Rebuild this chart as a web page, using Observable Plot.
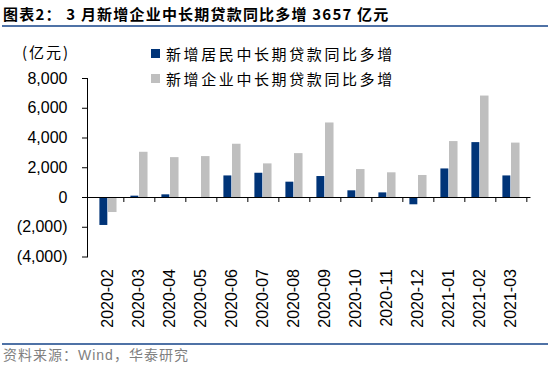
<!DOCTYPE html>
<html>
<head>
<meta charset="utf-8">
<script src="https://cdn.jsdelivr.net/npm/d3@7"></script>
<script src="https://cdn.jsdelivr.net/npm/@observablehq/plot@0.6"></script>
<style>
  html, body { margin: 0; padding: 0; background: #fff; }
  #wrap { position: relative; width: 550px; height: 365px; overflow: hidden; }
  #title { position: absolute; left: 3px; top: 5px; font: bold 15px/17px "Noto Sans CJK SC", sans-serif; letter-spacing: 1.2px; color: #000; white-space: nowrap; }
  #tline { position: absolute; left: 2px; right: 2px; top: 25px; height: 2px; background: #4f72a6; }
  #chart { position: absolute; left: 0; top: 0; }
  #unit { position: absolute; left: 22px; top: 43px; font: 15px/17px "Noto Sans CJK SC", sans-serif; letter-spacing: 2px; color: #000; }
  #legend { position: absolute; left: 151px; top: 41px; font: 15px "Noto Sans CJK SC", sans-serif; letter-spacing: 2.6px; color: #000; }
  #legend .row { display: flex; align-items: center; height: 25px; }
  #legend .sw { width: 9px; height: 9px; margin-right: 6px; }
  #bline { position: absolute; left: 2px; right: 2px; top: 343px; height: 2px; background: #4f72a6; }
  #source { position: absolute; left: 3px; top: 347px; font: 14px/14px "Noto Sans CJK SC", sans-serif; color: #7f7f7f; white-space: nowrap; letter-spacing: 1px; }
  #source .lat { font-family: "Liberation Sans", Arial, sans-serif; }
</style>
</head>
<body>
<div id="wrap">
  <div id="chart"></div>
  <div id="title">图表2： 3 月新增企业中长期贷款同比多增 3657 亿元</div>
  <div id="tline"></div>
  <div id="unit">(亿元)</div>
  <div id="legend"></div>
  <div id="bline"></div>
  <div id="source">资料来源：<span class="lat">Wind</span>，华泰研究</div>
</div>
<script>
const months = ["2020-02","2020-03","2020-04","2020-05","2020-06","2020-07","2020-08","2020-09","2020-10","2020-11","2020-12","2021-01","2021-02","2021-03"];
const seriesNames = ["新增居民中长期贷款同比多增", "新增企业中长期贷款同比多增"];
const seriesColors = ["#003478", "#bfbfbf"];
const household = [-1880, 90, 180, -40, 1450, 1630, 1030, 1410, 450, 310, -490, 1920, 3690, 1450];
const enterprise = [-1010, 3040, 2680, 2750, 3580, 2260, 2950, 5010, 1880, 1660, 1480, 3760, 6820, 3657];
const yTicks = [-4000, -2000, 0, 2000, 4000, 6000, 8000];

const W = 550, ML = 87, MR = 19.5;
const step = (W - ML - MR) / months.length;
const hhRows = months.map((m, i) => ({month: m, value: household[i]}));
const entRows = months.map((m, i) => ({month: m, value: enterprise[i]}));
const fmt = d => d < 0 ? "(" + d3.format(",")(-d) + ")" : d3.format(",")(d);

const chart = Plot.plot({
  width: W, height: 340,
  marginLeft: ML, marginRight: MR, marginTop: 78, marginBottom: 83.5,
  style: {fontFamily: "'Liberation Sans', Arial, sans-serif", fontSize: "16px", color: "#000", background: "transparent", overflow: "visible"},
  x: {domain: months, padding: 0, tickRotate: -90, tickSize: 0, tickPadding: 12, label: null},
  y: {domain: [-4000, 8000], ticks: yTicks, tickFormat: fmt, tickSize: 5, tickPadding: 15, line: true, label: null},
  marks: [
    Plot.barY(hhRows, {x: "month", y: "value", fill: seriesColors[0], insetLeft: 7.4, insetRight: step - 16}),
    Plot.barY(entRows, {x: "month", y: "value", fill: seriesColors[1], insetLeft: 16, insetRight: step - 25.2}),
    Plot.ruleY([0], {stroke: "#000", strokeWidth: 1}),
    Plot.ruleX(months, {x: d => d, y1: 0, y2: 0, dx: step / 2, insetBottom: -5, stroke: "#000"})
  ]
});
document.getElementById("chart").appendChild(chart);

const legend = document.getElementById("legend");
seriesNames.forEach((name, i) => {
  const row = document.createElement("div");
  row.className = "row";
  const sw = document.createElement("span");
  sw.className = "sw";
  sw.style.background = seriesColors[i];
  const t = document.createElement("span");
  t.textContent = name;
  row.appendChild(sw); row.appendChild(t);
  legend.appendChild(row);
});
</script>
</body>
</html>
